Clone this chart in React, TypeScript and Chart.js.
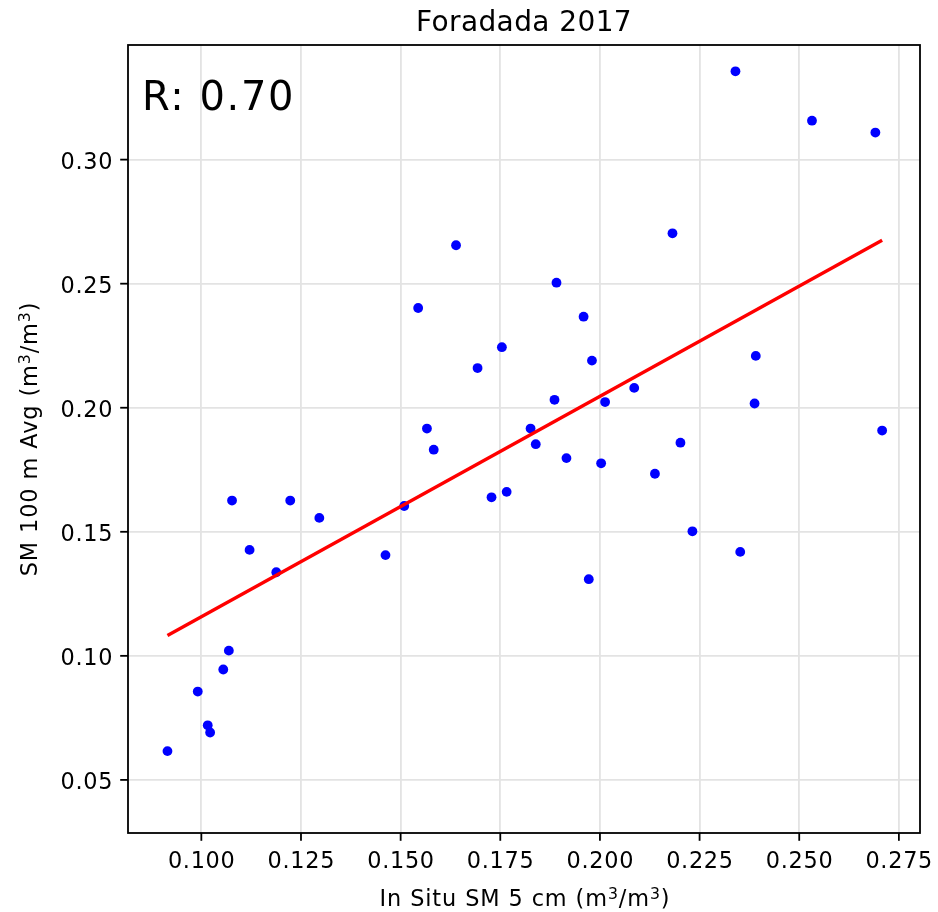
import React, { useEffect, useRef } from "react";
import { Chart, registerables } from "chart.js";

Chart.register(...registerables);

const titleText = "Foradada 2017";
const rText = "R: 0.70";
const xLabelParts = [
  { t: "In Situ SM 5 cm (m" },
  { t: "3", sup: true },
  { t: "/m" },
  { t: "3", sup: true },
  { t: ")" },
];
const yLabelParts = [
  { t: "SM 100 m Avg (m" },
  { t: "3", sup: true },
  { t: "/m" },
  { t: "3", sup: true },
  { t: ")" },
];

const xTickValues = [0.1, 0.125, 0.15, 0.175, 0.2, 0.225, 0.25, 0.275];
const yTickValues = [0.05, 0.1, 0.15, 0.2, 0.25, 0.3];
const xRange = [0.0816, 0.2803];
const yRange = [0.0286, 0.3462];

const inSituSM = [
  0.0915, 0.0991, 0.1016, 0.1022, 0.1055, 0.1069, 0.1077, 0.1121, 0.1188, 0.1223,
  0.1296, 0.1462, 0.1509, 0.1544, 0.1566, 0.1583, 0.1639, 0.1693, 0.1728, 0.1754,
  0.1766, 0.1826, 0.1839, 0.1891, 0.1886, 0.1916, 0.1959, 0.1972, 0.198, 0.2003,
  0.2013, 0.2086, 0.2138, 0.2182, 0.2202, 0.2232, 0.234, 0.2352, 0.2388, 0.2391,
  0.2532, 0.2691, 0.2708,
];
const sm100Avg = [
  0.0616, 0.0856, 0.072, 0.0691, 0.0945, 0.1021, 0.1626, 0.1427, 0.1337, 0.1626,
  0.1556, 0.1406, 0.1604, 0.2402, 0.1916, 0.1831, 0.2655, 0.216, 0.1639, 0.2244,
  0.1661, 0.1916, 0.1853, 0.2504, 0.2032, 0.1797, 0.2367, 0.1309, 0.219, 0.1776,
  0.2023, 0.208, 0.1734, 0.2703, 0.1859, 0.1502, 0.3356, 0.1419, 0.2017, 0.2209,
  0.3157, 0.3109, 0.1908,
];
const fitX = [0.0915, 0.2708];
const fitY = [0.1082, 0.2675];

const FONT = "'DejaVu Sans', 'Liberation Sans', sans-serif";
const TICK_SIZE = 22.4;

type Part = { t: string; sup?: boolean };

function setSpacing(ctx: any, px: number) {
  if ("letterSpacing" in ctx) ctx.letterSpacing = `${px}px`;
}

function drawRich(ctx: CanvasRenderingContext2D, parts: Part[], cx: number, baseline: number, size: number) {
  const supSize = size * 0.7;
  setSpacing(ctx, 0.9);
  const widths = parts.map((p) => {
    ctx.font = `${p.sup ? supSize : size}px ${FONT}`;
    return ctx.measureText(p.t).width;
  });
  const total = widths.reduce((a, b) => a + b, 0);
  let x = cx - total / 2;
  ctx.textAlign = "left";
  ctx.textBaseline = "alphabetic";
  parts.forEach((p, i) => {
    ctx.font = `${p.sup ? supSize : size}px ${FONT}`;
    ctx.fillText(p.t, x, p.sup ? baseline - size * 0.3 : baseline);
    x += widths[i];
  });
  setSpacing(ctx, 0);
}

const decorPlugin = {
  id: "decor",
  afterDraw(chart: any) {
    const ctx: CanvasRenderingContext2D = chart.ctx;
    const { left, right, top, bottom } = chart.chartArea;
    const xs = chart.scales.x;
    const ys = chart.scales.y;
    ctx.save();
    ctx.fillStyle = "#000";
    ctx.strokeStyle = "#000";
    ctx.lineWidth = 1.8;
    // frame
    ctx.strokeRect(left, top, right - left, bottom - top);
    // x ticks
    ctx.font = `${TICK_SIZE}px ${FONT}`;
    setSpacing(ctx, 0.7);
    ctx.textAlign = "center";
    ctx.textBaseline = "alphabetic";
    xTickValues.forEach((v) => {
      const px = xs.getPixelForValue(v);
      ctx.beginPath();
      ctx.moveTo(px, bottom);
      ctx.lineTo(px, bottom + 7.8);
      ctx.stroke();
      ctx.fillText(v.toFixed(3), px + 0.35, 868);
    });
    // y ticks
    ctx.textAlign = "right";
    yTickValues.forEach((v) => {
      const py = ys.getPixelForValue(v);
      ctx.beginPath();
      ctx.moveTo(left - 7.8, py);
      ctx.lineTo(left, py);
      ctx.stroke();
      ctx.fillText(v.toFixed(2), left - 15.6 + 0.7, py + 9.3);
    });
    // title
    ctx.font = `28px ${FONT}`;
    setSpacing(ctx, 0.4);
    ctx.textAlign = "center";
    ctx.fillText(titleText, (left + right) / 2, 30.5);
    // R text
    ctx.font = `40px ${FONT}`;
    setSpacing(ctx, 1.6);
    ctx.textAlign = "left";
    ctx.fillText(rText, 142, 109.5);
    setSpacing(ctx, 0);
    // x label
    drawRich(ctx, xLabelParts, (left + right) / 2 + 1, 906, TICK_SIZE);
    // y label
    ctx.save();
    ctx.translate(36.5, (top + bottom) / 2);
    ctx.rotate(-Math.PI / 2);
    drawRich(ctx, yLabelParts, 0, 0, TICK_SIZE);
    ctx.restore();
    ctx.restore();
  },
};

export default function App() {
  const ref = useRef<HTMLCanvasElement | null>(null);
  useEffect(() => {
    if (!ref.current) return;
    const points = inSituSM.map((x, i) => ({ x, y: sm100Avg[i] }));
    const fit = fitX.map((x, i) => ({ x, y: fitY[i] }));
    const chart = new Chart(ref.current, {
      type: "scatter",
      data: {
        datasets: [
          {
            type: "line",
            data: fit,
            showLine: true,
            borderColor: "#ff0000",
            borderWidth: 3.4,
            pointRadius: 0,
            fill: false,
            order: 0,
          } as any,
          {
            data: points,
            pointRadius: 4.9,
            pointHoverRadius: 4.9,
            backgroundColor: "#0000ff",
            borderWidth: 0,
            order: 1,
          },
        ],
      },
      options: {
        responsive: false,
        animation: false,
        devicePixelRatio: 1,
        layout: { padding: { left: 0, top: 45, right: 18, bottom: 0 } },
        plugins: {
          legend: { display: false },
          tooltip: { enabled: false },
          title: { display: false },
        },
        events: [],
        scales: {
          x: {
            type: "linear",
            min: xRange[0],
            max: xRange[1],
            afterFit: (s: any) => {
              s.height = 79;
            },
            afterBuildTicks: (s: any) => {
              s.ticks = xTickValues.map((v) => ({ value: v }));
            },
            ticks: { display: false },
            grid: { color: "#e3e3e3", lineWidth: 1.8, drawTicks: false },
            border: { display: false },
          },
          y: {
            type: "linear",
            min: yRange[0],
            max: yRange[1],
            afterFit: (s: any) => {
              s.width = 128;
            },
            afterBuildTicks: (s: any) => {
              s.ticks = yTickValues.map((v) => ({ value: v }));
            },
            ticks: { display: false },
            grid: { color: "#e3e3e3", lineWidth: 1.8, drawTicks: false },
            border: { display: false },
          },
        },
      },
      plugins: [decorPlugin],
    });
    return () => chart.destroy();
  }, []);
  return (
    <div style={{ position: "fixed", left: 0, top: 0, width: 938, height: 912, background: "#fff" }}>
      <canvas ref={ref} width={938} height={912} style={{ display: "block", width: 938, height: 912 }} />
    </div>
  );
}
